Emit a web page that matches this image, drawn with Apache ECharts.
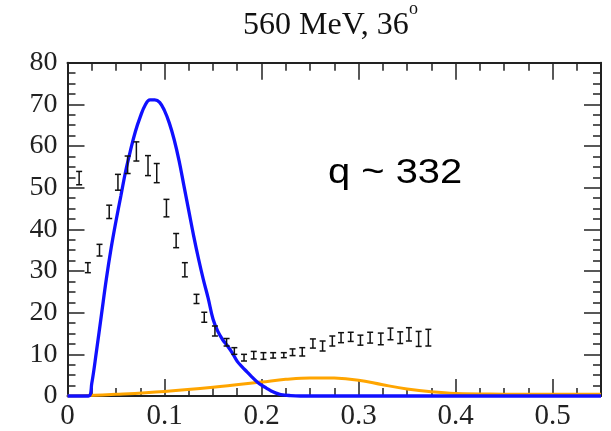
<!DOCTYPE html>
<html>
<head>
<meta charset="utf-8">
<script src="https://cdn.jsdelivr.net/npm/echarts@6/dist/echarts.min.js"></script>
<style>html,body{margin:0;padding:0;background:#fff}#c{width:611px;height:431px}</style>
</head>
<body>
<div id="c"></div>
<script>
// measured data points (x, cross section, error)
var dataX = [0.012,0.021,0.033,0.043,0.052,0.062,0.071,0.083,0.092,0.102,0.112,0.121,0.133,0.141,0.152,0.164,0.172,0.182,0.192,0.202,0.212,0.223,0.232,0.242,0.253,0.263,0.273,0.282,0.292,0.302,0.312,0.323,0.333,0.343,0.352,0.362,0.372];
var dataY = [52.3,30.8,35.0,44.2,51.3,55.5,58.7,55.3,53.5,45.1,37.3,30.3,23.3,18.9,15.6,12.9,10.8,9.2,9.8,9.6,9.75,9.8,10.5,10.6,12.6,12.0,13.2,14.0,14.2,13.4,14.0,13.7,14.9,14.0,14.8,13.7,14.0];
var dataErr = [1.6,1.2,1.4,1.6,1.9,2.1,2.3,2.4,2.3,2.1,1.7,1.7,1.1,1.2,1.2,0.9,0.8,0.8,0.9,0.8,0.65,0.6,0.8,1.0,1.1,1.2,1.2,1.2,1.1,1.2,1.3,1.4,1.4,1.4,1.6,1.8,2.0];

// blue model curve
var blueX = [0,0.0216,0.025,0.03,0.035,0.04,0.045,0.05,0.055,0.06,0.065,0.07,0.075,0.08,0.085,0.09,0.095,0.1,0.105,0.11,0.115,0.12,0.125,0.13,0.135,0.14,0.145,0.15,0.155,0.16,0.165,0.17,0.175,0.18,0.185,0.19,0.195,0.2,0.205,0.21,0.215,0.22,0.23,0.24,0.3,0.4,0.5,0.55];
var blueY = [0,0,3,11,19.5,28,35.5,42,48,54,59,63.5,67,69.8,71.1,71.1,70.5,68.5,65.5,61.5,56.5,50.5,44.5,38.5,33,28,23.5,18.5,15.5,13.5,12,10.3,8.3,7,5.8,4.6,3.5,2.6,1.9,1.2,0.7,0.35,0.1,0,0,0,0,0];

// orange model curve
var orangeX = [0,0.02,0.05,0.1,0.15,0.2,0.225,0.25,0.275,0.3,0.325,0.35,0.375,0.4,0.45,0.5,0.55];
var orangeY = [0,0.1,0.4,1.1,2.1,3.35,4.0,4.35,4.3,3.8,2.7,1.7,1.0,0.6,0.45,0.4,0.4];

// axis ticks
var xMin = 0, xMax = 0.55, xStep = 0.1;
var yMin = 0, yMax = 80, yStep = 10;

function zip(a, b, c) {
  return a.map(function (v, i) { return c ? [v, b[i], c[i]] : [v, b[i]]; });
}

var chart = echarts.init(document.getElementById('c'), null, {renderer: 'canvas'});

var axisCommon = {
  axisLine: {show: true, onZero: false, lineStyle: {color: '#222', width: 2}},
  axisTick: {show: true, inside: true, length: 17, lineStyle: {color: '#222', width: 1.5}},
  minorTick: {show: true, splitNumber: 4, length: 8, lineStyle: {color: '#222', width: 1.5}},
  splitLine: {show: false},
  minorSplitLine: {show: false}
};

function ax(extra) {
  return Object.assign({}, JSON.parse(JSON.stringify(axisCommon)), extra);
}

var option = {
  animation: false,
  backgroundColor: '#fff',
  grid: {left: 67.5, right: 10, top: 62.7, bottom: 34.3},
  xAxis: [
    ax({type: 'value', position: 'bottom', min: xMin, max: xMax, interval: xStep,
        axisLabel: {show: true, margin: 6, showMaxLabel: false, fontFamily: 'Liberation Serif', fontSize: 29, color: '#222'}}),
    ax({type: 'value', position: 'top', min: xMin, max: xMax, interval: xStep, axisLabel: {show: false}})
  ],
  yAxis: [
    ax({type: 'value', position: 'left', min: yMin, max: yMax, interval: yStep,
        axisLabel: {show: true, margin: 10, fontFamily: 'Liberation Serif', fontSize: 28, color: '#222'}}),
    ax({type: 'value', position: 'right', min: yMin, max: yMax, interval: yStep, axisLabel: {show: false}})
  ],
  graphic: [
    {type: 'text', left: 243, top: 10, style: {text: '560 MeV, 36', font: '32px "Liberation Serif"', fill: '#111'}},
    {type: 'text', left: 409, top: 0, style: {text: 'o', font: '18px "Liberation Serif"', fill: '#111'}},
    {type: 'text', x: 328, y: 156, scaleX: 1.14, style: {text: 'q ~ 332', font: '35px "Liberation Sans"', fill: '#000'}}
  ],
  series: [
    {type: 'line', data: zip(orangeX, orangeY), smooth: 0.4, showSymbol: false, symbol: 'none',
     lineStyle: {color: '#ffa500', width: 3}, clip: false, z: 2},
    {type: 'line', data: zip(blueX, blueY), smooth: 0.4, showSymbol: false, symbol: 'none',
     lineStyle: {color: '#1010ff', width: 3.3}, clip: false, z: 3},
    {type: 'custom', data: zip(dataX, dataY, dataErr), z: 4,
     renderItem: function (params, api) {
       var x = api.value(0), y = api.value(1), e = api.value(2);
       var t = api.coord([x, y + e]);
       var b = api.coord([x, y - e]);
       var w = 3;
       var st = {stroke: '#111', lineWidth: 1.5};
       return {type: 'group', children: [
         {type: 'line', shape: {x1: t[0], y1: t[1], x2: b[0], y2: b[1]}, style: st},
         {type: 'line', shape: {x1: t[0] - w, y1: t[1], x2: t[0] + w, y2: t[1]}, style: st},
         {type: 'line', shape: {x1: b[0] - w, y1: b[1], x2: b[0] + w, y2: b[1]}, style: st}
       ]};
     }}
  ]
};
chart.setOption(option);
</script>
</body>
</html>
